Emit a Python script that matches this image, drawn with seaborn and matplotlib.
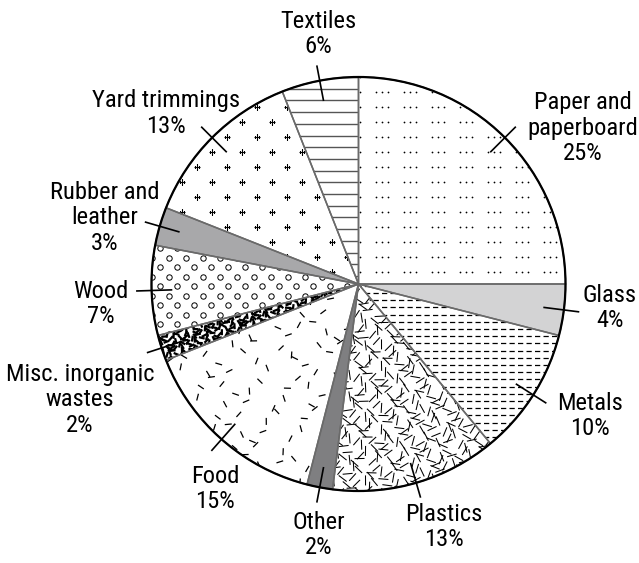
import numpy as np
import matplotlib
matplotlib.use('Agg')
import matplotlib.pyplot as plt
import seaborn as sns
from matplotlib import font_manager as fm
from matplotlib.collections import LineCollection
from matplotlib.patches import Circle

# shares of municipal solid waste, clockwise from 12 o'clock
labels = ['Paper and\npaperboard', 'Glass', 'Metals', 'Plastics', 'Other', 'Food',
          'Misc. inorganic\nwastes', 'Wood', 'Rubber and\nleather', 'Yard trimmings', 'Textiles']
shares = [25, 4, 10, 13, 2, 15, 2, 7, 3, 13, 6]
fills = ['dots', 'light', 'dash', 'plastic', 'dark', 'food', 'misc', 'rings', 'mid', 'cross', 'lines']

# label block centres (pixels)
label_xy = [(583, 128), (610, 308), (590, 416), (444, 527), (319, 535), (215, 489),
            (80, 400), (101, 304), (105, 218), (166, 113.5), (318, 34)]

W, H = 639, 563
cx, cy, R = 358.5, 284, 207

sns.set_theme(style='white')
plt.rcParams['font.family'] = ['Liberation Sans', 'DejaVu Sans']


def pick_font():
    # the reference uses a condensed grotesque; take the best narrow face on hand
    fonts = [f for f in fm.fontManager.ttflist
             if f.style == 'normal' and f.weight in (400, 'normal', 'regular', 'book')]
    prefs = ['Liberation Sans Narrow', 'Roboto Condensed', 'Noto Sans', 'DejaVu Sans',
             'Open Sans', 'Roboto', 'Lato', 'Inter']
    for p in prefs:
        for f in fonts:
            narrow = f.stretch in ('condensed', 'semi-condensed') or 'Condensed' in f.name \
                or 'Narrow' in f.name or 'Condensed' in f.fname or 'Narrow' in f.fname
            if f.name.startswith(p) and narrow and 'Extra' not in f.fname:
                return f.fname
    return fm.findfont(fm.FontProperties(family='Liberation Sans'))


font_file = pick_font()

fig = plt.figure(figsize=(W / 100, H / 100), dpi=100)
ax = fig.add_axes([0, 0, 1, 1])

# size the font so that "paperboard" is about as wide as in the reference
probe = fig.text(0, 0, 'paperboard', fontproperties=fm.FontProperties(fname=font_file, size=20))
wpx = probe.get_window_extent(fig.canvas.get_renderer()).width
probe.remove()
fsize = min(18.0, 20 * 110 / wpx)
lab_font = fm.FontProperties(fname=font_file, size=fsize)

solid = {'light': '#d3d3d4', 'mid': '#a8a8aa', 'dark': '#7f7f81'}
face = [solid.get(f, 'white') for f in fills]
# y axis is inverted below, so counterclock + start -90 runs clockwise from the top
wedges, _ = ax.pie(shares, colors=face, startangle=-90, counterclock=True,
                   center=(cx, cy), radius=R, wedgeprops=dict(linewidth=0, zorder=1))


def lattice(dx, dy, shift=0.0):
    ys = np.arange(cy - R - dy, cy + R + dy, dy)
    pts = []
    for i, y in enumerate(ys):
        xs = np.arange(cx - R - dx, cx + R + dx, dx) + (shift * dx if i % 2 else 0)
        pts += [(x, y) for x in xs]
    return np.array(pts)


def scribble(wedge, step, length, lw, color='black'):
    pts = lattice(step, step, 0.5)
    k = np.arange(len(pts))
    ang = np.deg2rad((k * 137.508) % 180)
    x0 = pts[:, 0] + ((k * 0.6180339) % 1 - 0.5) * step
    y0 = pts[:, 1] + ((k * 0.4142136) % 1 - 0.5) * step
    hx, hy = np.cos(ang) * length / 2, np.sin(ang) * length / 2
    segs = np.stack([np.column_stack([x0 - hx, y0 - hy]),
                     np.column_stack([x0 + hx, y0 + hy])], axis=1)
    lc = LineCollection(segs, colors=color, linewidths=lw, zorder=2)
    ax.add_collection(lc)
    lc.set_clip_path(wedge)


def hlines(wedge, step, color, lw, ls='-'):
    ys = np.arange(cy - R, cy + R, step)
    segs = [[(cx - R, y), (cx + R, y)] for y in ys]
    lc = LineCollection(segs, colors=color, linewidths=lw, linestyles=ls, zorder=2)
    ax.add_collection(lc)
    lc.set_clip_path(wedge)


def markers(wedge, pts, **kw):
    sc = ax.scatter(pts[:, 0], pts[:, 1], zorder=2, **kw)
    sc.set_clip_path(wedge)


for w, f in zip(wedges, fills):
    if f == 'dots':
        base = lattice(28, 15)
        pts = np.vstack([base + [o, 0] for o in (0, 6, 12)])
        markers(w, pts, s=1.6, c='black', linewidths=0)
    elif f == 'lines':
        hlines(w, 11.7, '#555555', 1.0)
    elif f == 'dash':
        hlines(w, 7.2, 'black', 0.9, ls=(0, (4.2, 2.6)))
    elif f == 'plastic':
        scribble(w, 8, 10, 0.75)
    elif f == 'food':
        scribble(w, 17, 7, 0.9)
    elif f == 'misc':
        scribble(w, 4.2, 6, 1.6)
    elif f == 'rings':
        markers(w, lattice(17, 9.5, 0.5), s=15, facecolors='white',
                edgecolors='black', linewidths=0.7)
    elif f == 'cross':
        markers(w, lattice(30, 15, 0.5), s=22, marker='+', c='black', linewidths=0.8)

# slice borders and outer rim
ax.pie(shares, startangle=-90, counterclock=True, center=(cx, cy), radius=R,
       wedgeprops=dict(fill=False, edgecolor='#6a6a6a', linewidth=1.1, zorder=3))
ax.add_patch(Circle((cx, cy), R, fill=False, edgecolor='black', linewidth=1.6, zorder=4))

# leader lines and labels
for w, lab, val, (tx, ty) in zip(wedges, labels, shares, label_xy):
    th = np.deg2rad((w.theta1 + w.theta2) / 2)
    r0, r1 = 0.9 * R, 1.075 * R
    ax.plot([cx + r0 * np.cos(th), cx + r1 * np.cos(th)],
            [cy + r0 * np.sin(th), cy + r1 * np.sin(th)],
            color='black', lw=1.2, zorder=5, solid_capstyle='butt')
    ax.text(tx, ty, f'{lab}\n{val}%', ha='center', va='center',
            fontproperties=lab_font, linespacing=1.16, color='black')

ax.set_xlim(0, W)
ax.set_ylim(H, 0)
ax.set_aspect('equal')
ax.axis('off')
fig.savefig('out.png', dpi=100)
